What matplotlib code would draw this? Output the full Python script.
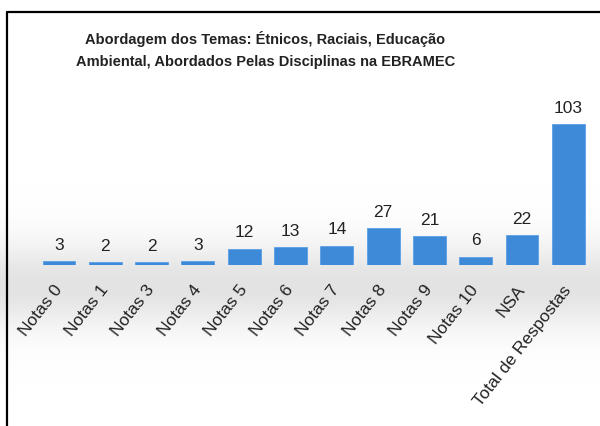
import numpy as np
import matplotlib.pyplot as plt
from matplotlib.lines import Line2D
from matplotlib.colors import LinearSegmentedColormap

categorias = ['Notas 0', 'Notas 1', 'Notas 3', 'Notas 4', 'Notas 5', 'Notas 6',
              'Notas 7', 'Notas 8', 'Notas 9', 'Notas 10', 'NSA', 'Total de Respostas']
valores = [3, 2, 2, 3, 12, 13, 14, 27, 21, 6, 22, 103]
titulo = ('Abordagem dos Temas: Étnicos, Raciais, Educação\n'
          'Ambiental, Abordados Pelas Disciplinas na EBRAMEC')

fonte = ['Liberation Sans', 'DejaVu Sans']
fig = plt.figure(figsize=(6, 4.26), dpi=100)

# fundo com faixa cinza perto da base das barras
fundo = fig.add_axes([0, 0, 1, 1], zorder=-2)
ys = np.linspace(0, 1, 426)
cinza = np.exp(-((ys - 0.67) / 0.1) ** 2)
cmap = LinearSegmentedColormap.from_list('bg', ['#ffffff', '#e3e3e3'])
fundo.imshow(cinza[:, None], aspect='auto', cmap=cmap, vmin=0, vmax=1,
             extent=[0, 1, 0, 1], origin='upper')
fundo.set_xlim(0, 1)
fundo.set_ylim(0, 1)
fundo.axis('off')

# moldura (esquerda e topo)
y_top = 1 - 12 / 426
x_esq = 7 / 600
fig.add_artist(Line2D([x_esq, x_esq, 1], [0, y_top, y_top], color='black',
                      linewidth=1.6, transform=fig.transFigure))

ax = fig.add_axes([0.0598, 0.378, 0.926, 0.3856])
ax.patch.set_alpha(0)
x = np.arange(len(categorias))
barras = ax.bar(x, valores, width=0.71, color='#3F8AD8', edgecolor='#5aa0e6',
                linewidth=0.6)
ax.set_xlim(-0.5, len(categorias) - 0.5)
ax.set_ylim(0, 120)

for b, v in zip(barras, valores):
    ax.annotate(str(v), (b.get_x() + b.get_width() / 2, v), xytext=(0, 6),
                textcoords='offset points', ha='center', va='bottom',
                fontsize=12.5, family=fonte, color='#222222')

ax.set_xticks(x)
ax.set_xticklabels(categorias, rotation=52, ha='right', va='center',
                   rotation_mode='anchor', fontsize=12.5, family=fonte,
                   color='#222222')
ax.tick_params(axis='x', length=0, pad=16)
ax.set_yticks([])
for s in ax.spines.values():
    s.set_visible(False)

fig.text(0.442, 0.882, titulo, ha='center', va='center', fontsize=10.5,
         fontweight='bold', family=fonte, color='#222222', linespacing=1.75)

fig.savefig('out.png', dpi=100)
